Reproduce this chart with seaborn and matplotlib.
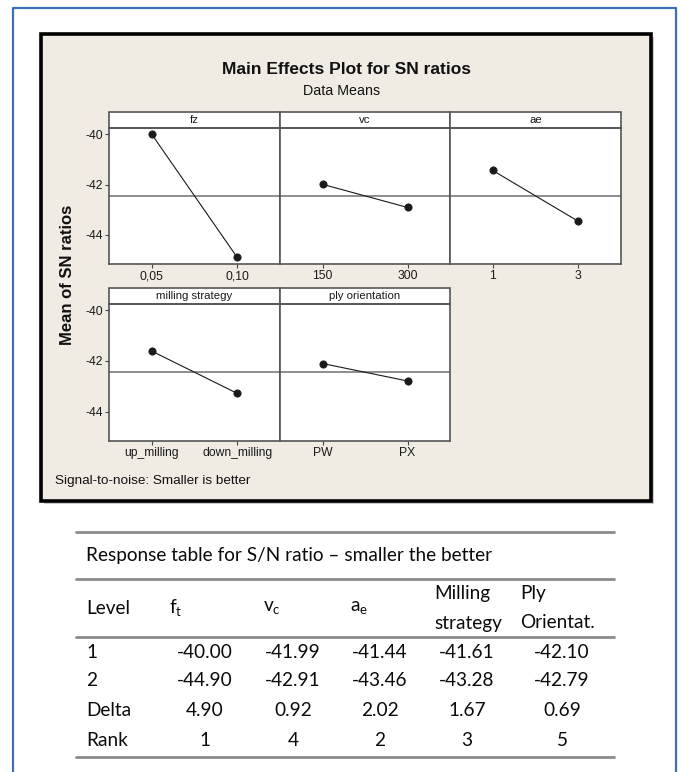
import matplotlib
matplotlib.use("Agg")
import matplotlib.pyplot as plt
from matplotlib.patches import Rectangle
from matplotlib.lines import Line2D
import pandas as pd
import seaborn as sns

# main effects (S/N ratio means per level)
factor_names = ["fz", "vc", "ae", "milling strategy", "ply orientation"]
fz_levels = ["0,05", "0,10"]
vc_levels = ["150", "300"]
ae_levels = ["1", "3"]
milling_levels = ["up_milling", "down_milling"]
ply_levels = ["PW", "PX"]
fz_sn = [-40.00, -44.90]
vc_sn = [-41.99, -42.91]
ae_sn = [-41.44, -43.46]
milling_sn = [-41.61, -43.28]
ply_sn = [-42.10, -42.79]
y_ticks = [-44, -42, -40]

# response table
table_title = "Response table for S/N ratio \u2013 smaller the better"
table_rows = ["1", "2", "Delta", "Rank"]
delta = [4.90, 0.92, 2.02, 1.67, 0.69]
rank = [1, 4, 2, 3, 5]

levels = [fz_levels, vc_levels, ae_levels, milling_levels, ply_levels]
sn_vals = [fz_sn, vc_sn, ae_sn, milling_sn, ply_sn]

rows = []
for name, lv, vals in zip(factor_names, levels, sn_vals):
    for l, v in zip(lv, vals):
        rows.append({"factor": name, "level": l, "sn": v})
df = pd.DataFrame(rows)
grand_mean = sum(fz_sn) / len(fz_sn)

sns.set_theme(style="ticks")
plt.rcParams["font.family"] = ["Liberation Sans", "DejaVu Sans"]
plt.rcParams["axes.unicode_minus"] = False
plt.rcParams["mathtext.fontset"] = "custom"
plt.rcParams["mathtext.rm"] = "Lato"

W, H = 680, 772
fig = plt.figure(figsize=(W / 100, H / 100), dpi=100)
fig.patch.set_facecolor("white")


def fx(px):
    return px / W


def fy(py):
    return 1 - py / H


# outer blue frame (open at the bottom)
fig.add_artist(Line2D([fx(13), fx(13), fx(676), fx(676)], [fy(800), fy(8), fy(8), fy(800)],
                      color="#3f70b5", lw=1.6, zorder=-4))
# beige minitab panel with a soft shadow
fig.add_artist(Rectangle((fx(44), fy(504)), (651 - 41) / W, (501 - 34) / H,
                         facecolor="#c9c9c9", edgecolor="none", zorder=-3))
fig.add_artist(Rectangle((fx(41), fy(501)), (651 - 41) / W, (501 - 34) / H,
                         facecolor="#f0ece3", edgecolor="black", lw=2.6, zorder=-2))

fig.text(fx(347), fy(70), "Main Effects Plot for SN ratios", ha="center", va="center",
         fontsize=12.5, fontweight="bold", color="#111111")
fig.text(fx(342), fy(91), "Data Means", ha="center", va="center", fontsize=10.3,
         color="#111111")
fig.text(fx(68), fy(275), "Mean of SN ratios", rotation=90, ha="center", va="center",
         fontsize=12, fontweight="bold", color="#111111")
fig.text(fx(55), fy(481), "Signal-to-noise: Smaller is better", ha="left", va="center",
         fontsize=9.7, color="#111111")

cols = [(109, 280), (280, 450), (450, 621)]
rows_px = [(128, 264), (304, 441)]
strip_h = 16

for i, name in enumerate(factor_names):
    r, c = divmod(i, 3)
    x0, x1 = cols[c]
    y0, y1 = rows_px[r]
    ax = fig.add_axes([fx(x0), fy(y1), (x1 - x0) / W, (y1 - y0) / H])
    ax.set_facecolor("white")
    sub = df[df["factor"] == name]
    ax.axhline(grand_mean, color="#7a7a7a", lw=1.2, zorder=1)
    sns.pointplot(data=sub, x="level", y="sn", ax=ax, color="#1a1a1a", errorbar=None,
                  markers="o", markersize=5.2, linewidth=0.8)
    ax.set_xlim(-0.5, 1.5)
    ax.set_ylim(-45.16, -39.75)
    ax.set_yticks(y_ticks)
    ax.set_xlabel("")
    ax.set_ylabel("")
    for s in ax.spines.values():
        s.set_color("#555555")
        s.set_linewidth(1.2)
    ax.tick_params(axis="both", direction="out", length=3, width=0.8, color="#444444",
                   labelsize=8.7, pad=1.5, labelcolor="#1a1a1a")
    if c != 0:
        ax.tick_params(axis="y", left=False, labelleft=False)
    h = (y1 - y0)
    ax.add_patch(Rectangle((0, 1), 1, strip_h / h, transform=ax.transAxes, clip_on=False,
                           facecolor="white", edgecolor="#555555", lw=1.2))
    ax.text(0.5, 1 + strip_h / h / 2, name, transform=ax.transAxes, ha="center", va="center",
            fontsize=8.2, color="#1a1a1a")

# response table
tfont = dict(family=["Lato", "DejaVu Sans"], fontsize=13.7, color="#0a0a0a")
for yl in [532, 579, 637, 757]:
    fig.add_artist(Line2D([fx(76), fx(614)], [fy(yl), fy(yl)], color="#8c8c8c", lw=2))
fig.text(fx(86), fy(555), table_title, ha="left", va="center", **tfont)
fig.text(fx(86), fy(608), "Level", ha="left", va="center", **tfont)
fig.text(fx(169), fy(608), r"$\mathrm{f}_\mathrm{t}$", ha="left", va="center", **tfont)
fig.text(fx(263), fy(608), r"$\mathrm{v}_\mathrm{c}$", ha="left", va="center", **tfont)
fig.text(fx(350), fy(608), r"$\mathrm{a}_\mathrm{e}$", ha="left", va="center", **tfont)
fig.text(fx(434), fy(593), "Milling", ha="left", va="center", **tfont)
fig.text(fx(434), fy(623), "strategy", ha="left", va="center", **tfont)
fig.text(fx(520), fy(593), "Ply", ha="left", va="center", **tfont)
fig.text(fx(520), fy(623), "Orientat.", ha="left", va="center", **tfont)

col_x = [205, 293, 380, 467, 562]
row_y = [652, 681, 711, 740]
level1 = [v[0] for v in sn_vals]
level2 = [v[1] for v in sn_vals]
cells = [[f"{v:.2f}" for v in level1], [f"{v:.2f}" for v in level2],
         [f"{v:.2f}" for v in delta], [str(v) for v in rank]]
for label, ry, vals in zip(table_rows, row_y, cells):
    fig.text(fx(86), fy(ry), label, ha="left", va="center", **tfont)
    for cx, v in zip(col_x, vals):
        fig.text(fx(cx), fy(ry), v, ha="center", va="center", **tfont)

fig.savefig("out.png", dpi=100)
